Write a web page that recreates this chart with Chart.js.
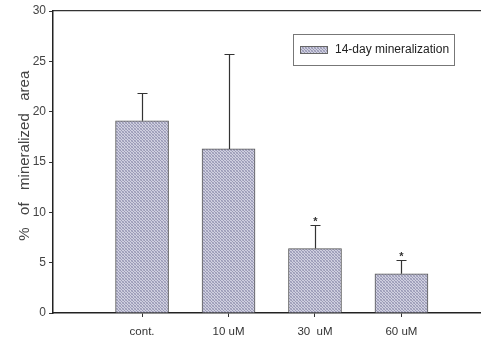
<!DOCTYPE html>
<html>
<head>
<meta charset="utf-8">
<script src="https://cdn.jsdelivr.net/npm/chart.js@4"></script>
<style>
  html, body { margin: 0; padding: 0; background: #fff; overflow: hidden; }
  #wrap { width: 481px; height: 342px; }
</style>
</head>
<body>
<div id="wrap"><canvas id="chartMineral" width="481" height="342"></canvas></div>
<script>
// Datos
const categorias = ['cont.', '10 uM', '30  uM', '60 uM'];
const valores = [19.1, 16.3, 6.4, 3.9];
const errores = [2.8, 9.4, 2.3, 1.4];
const significativo = [false, false, true, true];
const ticksY = [0, 5, 10, 15, 20, 25, 30];
const etiquetaSerie = '14-day mineralization';

// Trama cuadriculada de las barras
const crearTrama = () => {
    const c = document.createElement('canvas');
    c.width = 3; c.height = 3;
    const g = c.getContext('2d');
    g.fillStyle = '#d0d0e0';
    g.fillRect(0, 0, 3, 3);
    g.fillStyle = '#9a9ab6';
    g.fillRect(0, 0, 1, 1);
    g.fillRect(1, 1, 1, 1);
    g.fillRect(2, 2, 1, 1);
    g.fillStyle = '#b0b0c8';
    g.fillRect(2, 0, 1, 1);
    g.fillRect(0, 2, 1, 1);
    return g.createPattern(c, 'repeat');
};
const trama = crearTrama();

// Barras de error (solo hacia arriba) y asteriscos
const pluginErrores = {
    id: 'errores',
    afterDatasetsDraw(chart) {
        const { ctx, scales: { x, y } } = chart;
        ctx.save();
        ctx.strokeStyle = '#333';
        ctx.lineWidth = 1.2;
        valores.forEach((v, i) => {
            const px = Math.round(x.getPixelForValue(i + 1)) + 0.5;
            const y0 = y.getPixelForValue(v);
            const y1 = Math.round(y.getPixelForValue(v + errores[i])) + 0.5;
            ctx.beginPath();
            ctx.moveTo(px, y0);
            ctx.lineTo(px, y1);
            ctx.moveTo(px - 5, y1);
            ctx.lineTo(px + 5, y1);
            ctx.stroke();
            if (significativo[i]) {
                ctx.fillStyle = '#333';
                ctx.font = 'bold 11px Arial, "Liberation Sans"';
                ctx.textAlign = 'center';
                ctx.textBaseline = 'middle';
                ctx.fillText('*', px, y1 - 4);
            }
        });
        ctx.restore();
    }
};

// Leyenda en recuadro dentro del área
const pluginLeyenda = {
    id: 'leyendaCaja',
    afterDraw(chart) {
        const { ctx } = chart;
        ctx.save();
        ctx.strokeStyle = '#777';
        ctx.lineWidth = 1;
        ctx.strokeRect(293.5, 34.5, 161, 31);
        ctx.fillStyle = trama;
        ctx.fillRect(300, 46, 28, 8);
        ctx.strokeStyle = '#666';
        ctx.strokeRect(300.5, 46.5, 27, 7);
        ctx.fillStyle = '#222';
        ctx.font = '12px Arial, "Liberation Sans"';
        ctx.textBaseline = 'middle';
        ctx.fillText(etiquetaSerie, 335, 50);
        ctx.restore();
    }
};

const ctxMin = document.getElementById('chartMineral').getContext('2d');

const grafica = new Chart(ctxMin, {
    type: 'bar',
    data: {
        datasets: [{
            label: etiquetaSerie,
            data: valores.map((v, i) => ({ x: i + 1, y: v })),
            backgroundColor: trama,
            borderColor: '#555',
            borderWidth: 1,
            barThickness: 53
        }]
    },
    options: {
        responsive: false,
        animation: false,
        layout: { padding: { top: 3, right: 0, left: 0, bottom: 0 } },
        plugins: { legend: { display: false }, tooltip: { enabled: false } },
        scales: {
            x: {
                type: 'linear',
                min: -0.03,
                max: 4.92,
                offset: false,
                afterBuildTicks: (s) => { s.ticks = categorias.map((c, i) => ({ value: i + 1 })); },
                afterFit: (s) => { s.height = 29; },
                ticks: {
                    callback: (v) => categorias[v - 1] || '',
                    color: '#333',
                    font: { family: 'Arial, "Liberation Sans"', size: 11.5 },
                    padding: 8,
                    maxRotation: 0
                },
                grid: { offset: false, drawOnChartArea: false, drawTicks: true, tickLength: 4, color: '#333' },
                border: { color: '#222', width: 1.5 }
            },
            xTop: {
                type: 'linear',
                position: 'top',
                min: 0, max: 1,
                ticks: { display: false },
                grid: { display: false },
                border: { color: '#333', width: 1.2 }
            },
            y: {
                min: 0,
                max: 30,
                afterBuildTicks: (s) => { s.ticks = ticksY.map(v => ({ value: v })); },
                afterFit: (s) => { s.width = 53; },
                ticks: {
                    color: '#444',
                    font: { family: 'Arial, "Liberation Sans"', size: 12 },
                    padding: 3
                },
                grid: { drawOnChartArea: false, drawTicks: true, tickLength: 4, color: '#333' },
                border: { color: '#222', width: 1.5 },
                title: {
                    display: true,
                    text: '   %   of   mineralized   area',
                    color: '#444',
                    font: { family: 'Arial, "Liberation Sans"', size: 15 },
                    padding: { top: 16, bottom: 0 }
                }
            }
        }
    },
    plugins: [pluginErrores, pluginLeyenda]
});
</script>
</body>
</html>
